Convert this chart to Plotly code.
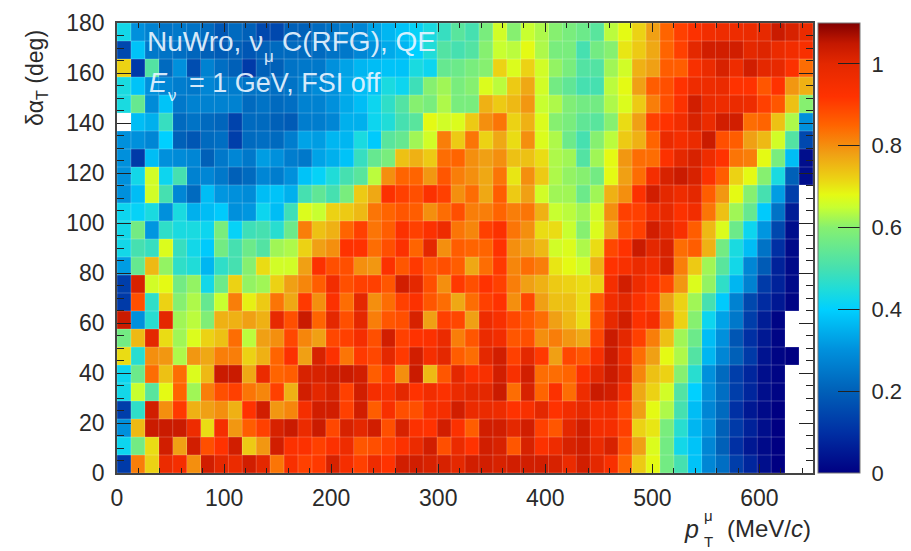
import plotly.graph_objects as go

# cell values, top row of the picture first
row_00 = [.43,.30,.27,.24,.25,.24,.22,.18,.22,.20,.15,.15,.20,.20,.22,.24,.27,.28,.33,.36,.38,.41,.44,.48,.53, .50,.58,.66,.60,.65,.63,.60,.58,.56,.53,.64,.68,.72,.78,.85,.90,.93,.96,.97,.97,.98,.99,1.04,1.02,.98]
row_01 = [.15,.38,.25,.24,.23,.21,.20,.19,.20,.18,.20,.22,.22,.22,.22,.24,.25,.28,.30,.34,.36,.40,.45,.52,.50, .52,.60,.65,.64,.68,.63,.58,.58,.50,.57,.60,.70,.73,.77,.85,.90,1.0,1.03,1.03,1.03,1.0,1.01,.98,.96,.94]
row_02 = [.72,.12,.52,.22,.30,.16,.27,.23,.20,.12,.20,.20,.24,.25,.25,.30,.33,.36,.37,.38,.38,.44,.42,.55,.56, .58,.60,.72,.67,.72,.66,.61,.58,.52,.52,.62,.66,.76,.78,.86,.86,.94,.98,1.02,.97,1.03,1.0,.99,.93,.84]
row_03 = [.44,.38,.30,.28,.26,.25,.28,.26,.26,.24,.24,.23,.24,.27,.29,.30,.34,.37,.38,.44,.42,.49,.60,.62,.58, .60,.67,.64,.73,.77,.66,.57,.54,.50,.50,.64,.68,.78,.86,.88,.92,.97,.97,.98,.92,.92,.87,.92,.79,.76]
row_04 = [.44,.55,.29,.38,.25,.27,.27,.27,.27,.22,.24,.22,.23,.27,.27,.30,.34,.37,.42,.47,.52,.60,.58,.63,.58, .58,.76,.73,.75,.79,.65,.63,.59,.57,.57,.63,.67,.73,.82,.88,.93,1.03,.98,.97,.98,.97,.90,.87,.74,.60]
row_05 = [None,.37,.35,.48,.22,.24,.22,.21,.14,.22,.22,.20,.19,.26,.26,.28,.35,.35,.42,.45,.50,.53,.68,.66,.67, .73,.80,.83,.72,.76,.67,.60,.58,.54,.53,.60,.71,.78,.90,.92,.96,1.02,.98,1.03,1.03,.84,.85,.74,.63,.30]
row_06 = [.30,.30,.28,.40,.20,.18,.22,.23,.13,.22,.23,.22,.26,.33,.32,.36,.36,.44,.39,.53,.55,.62,.66,.82,.73, .83,.72,.77,.71,.80,.67,.63,.56,.50,.60,.64,.73,.76,.85,.98,.95,.98,1.04,.88,.86,.78,.75,.66,.52,.15]
row_07 = [.30,.12,.37,.30,.29,.28,.20,.25,.28,.25,.32,.30,.26,.25,.33,.35,.38,.48,.55,.58,.74,.76,.73,.84,.85, .80,.78,.80,.74,.74,.71,.63,.62,.52,.62,.68,.79,.84,.84,.93,1.0,1.02,.97,.92,.83,.82,.68,.58,.37,.03]
row_08 = [.30,.43,.66,.42,.50,.27,.28,.25,.20,.22,.28,.26,.30,.38,.41,.45,.50,.53,.64,.80,.85,.85,.79,.87,.82, .80,.77,.83,.70,.80,.73,.63,.61,.60,.57,.68,.78,.84,.95,1.02,1.04,1.02,.93,.86,.72,.68,.60,.44,.20,.03]
row_09 = [.30,.37,.66,.50,.28,.22,.37,.31,.30,.29,.37,.38,.35,.50,.54,.50,.58,.73,.77,.93,.90,.88,.93,.90,.80, .84,.77,.86,.73,.78,.66,.62,.62,.56,.62,.76,.80,.93,1.03,1.0,.97,1.0,.86,.79,.68,.60,.50,.32,.13,None]
row_10 = [.42,.41,.44,.30,.44,.35,.37,.39,.30,.31,.42,.37,.49,.67,.65,.72,.73,.75,.83,.85,.87,.86,.80,.84,.88, .82,.82,.85,.82,.83,.76,.65,.64,.62,.66,.80,.90,.90,.96,.99,.93,.96,.83,.74,.62,.55,.39,.24,.06,None]
row_11 = [.43,.57,.31,.47,.44,.44,.42,.58,.41,.49,.50,.46,.56,.82,.74,.76,.85,.90,.83,.86,.93,.90,.93,.97,.83, .81,.90,.93,.83,.80,.71,.71,.65,.60,.67,.77,.88,.90,1.03,1.0,.94,.86,.75,.67,.56,.42,.31,.15,.03,None]
row_12 = [.43,.50,.48,.67,.48,.43,.39,.57,.50,.56,.52,.62,.63,.72,.78,.80,.92,.92,.84,.88,.93,.85,1.0,.80,.86, .85,.85,.92,.80,.78,.75,.66,.67,.63,.71,.89,.92,1.04,1.0,1.02,.84,.86,.76,.57,.44,.37,.24,.10,.02,None]
row_13 = [.32,.55,.75,.61,.47,.45,.36,.47,.50,.60,.71,.66,.66,.78,.93,.88,.88,.80,.79,.93,.87,.91,.87,.88,.86, .77,.84,.91,.81,.84,.82,.70,.68,.66,.76,.92,.94,.98,.96,1.02,.82,.73,.62,.53,.43,.28,.19,.07,.02,None]
row_14 = [.13,1.02,.66,.68,.57,.61,.43,.56,.72,.61,.62,.72,.78,.81,.86,.96,.88,.90,.90,.87,1.03,1.0,.88,.80,.91, .88,.92,.90,.82,.78,.76,.73,.72,.71,.72,.95,1.03,.97,.93,.89,.79,.67,.61,.47,.36,.27,.12,.07,.02,None]
row_15 = [.12,.88,.47,.72,.60,.63,.55,.65,.82,.69,.73,.83,.77,.91,.80,.93,.84,1.0,.80,.84,.90,.93,.87,.84,.77, .84,.90,.92,.80,.89,.78,.74,.74,.71,.86,.96,1.0,.93,.90,.78,.72,.62,.50,.39,.27,.15,.09,.05,.01,None]
row_16 = [1.04,.30,.46,1.0,.62,.64,.59,.76,.76,.78,.76,.99,.88,1.04,.85,1.0,.88,1.0,.82,.87,.88,1.02,.78,.90,.89, .78,.97,.94,.89,.87,.84,.78,.75,.71,.87,.99,1.03,.93,.95,.82,.72,.60,.42,.33,.25,.13,.06,.01,None,None]
row_17 = [.57,.75,1.0,.71,.62,.67,.72,.74,.84,.64,.78,.80,.89,.81,.78,.89,.90,.95,.88,1.03,.90,.92,.93,.98,.82, .87,.98,.96,.87,.88,.80,.82,.79,.77,.89,1.04,1.0,.90,.82,.74,.62,.56,.37,.30,.18,.10,.05,.01,None,None]
row_18 = [.71,.46,.80,.79,.63,.79,.77,.82,.82,.72,.76,.85,.93,.78,1.02,.93,.83,.91,.89,1.0,.91,1.03,.95,1.0,.86, .84,1.0,1.03,.90,1.0,.91,.78,.89,.87,.94,1.04,.97,.84,.78,.68,.63,.52,.36,.28,.20,.12,.04,.01,.0,None]
row_19 = [.42,.56,.84,.74,.84,.67,.75,1.04,1.04,.77,.98,.85,.86,1.02,1.02,1.03,1.04,1.03,.86,.91,.80,1.04,.75,.87,1.0, .93,.94,1.03,.94,1.03,.84,.84,.85,.93,1.0,1.04,1.0,.81,.74,.72,.60,.46,.30,.22,.13,.08,.03,.01,None,None]
row_20 = [.43,.65,.53,.68,.85,.62,.82,.88,.90,.83,.81,.90,.76,1.03,1.0,1.02,.90,1.03,.95,.94,1.0,.92,.96,.93,.98, 1.0,1.0,1.04,.84,1.02,.85,.93,.84,.97,1.04,1.03,.95,.77,.72,.66,.52,.40,.30,.23,.13,.08,.03,.01,None,None]
row_21 = [.13,.47,1.03,.80,.91,.76,.78,.80,.76,.92,1.03,.79,.81,.95,1.03,1.03,.90,1.03,.86,.94,.88,.88,.94,.95,1.03, .98,.98,.97,.92,.94,1.0,.92,.96,.99,.95,.96,.89,.78,.68,.63,.50,.37,.28,.22,.10,.05,.02,.0,None,None]
row_22 = [.30,.75,1.04,1.04,1.04,.97,.71,.95,.79,.86,.90,1.02,1.04,.98,1.04,.89,1.02,1.0,1.03,.88,1.02,.93,.92,1.03,.93, .86,1.03,1.03,1.0,1.03,.90,.87,1.0,1.03,.95,.95,.90,.72,.70,.58,.46,.36,.30,.20,.12,.07,.03,.0,None,None]
row_23 = [.42,.57,.71,1.03,.78,1.03,.88,.92,1.03,.73,.79,1.03,.93,.93,.90,.93,.97,.87,.88,.90,.93,.98,1.03,.88,.98, .92,1.03,1.02,.87,1.02,.93,.97,1.02,1.03,.98,1.02,.88,.78,.67,.57,.43,.38,.28,.20,.10,.05,.02,.0,None,None]
row_24 = [.12,.82,.72,.98,.95,.80,1.03,1.0,.98,1.03,1.0,.83,.94,.90,.91,1.02,.95,.90,.97,.92,1.03,1.03,1.02,1.02,1.0, 1.03,1.03,1.02,1.03,1.03,1.03,1.02,.98,1.03,1.0,.94,.85,.73,.68,.57,.50,.38,.28,.23,.13,.08,.03,.0,None,None]

rows_top_first = [row_00,row_01,row_02,row_03,row_04,row_05,row_06,row_07,row_08,row_09,row_10,row_11,row_12,
                  row_13,row_14,row_15,row_16,row_17,row_18,row_19,row_20,row_21,row_22,row_23,row_24]
assert all(len(r) == 50 for r in rows_top_first)

X_BIN, Y_BIN = 13, 7.2
x_centers = [X_BIN * (i + .5) for i in range(50)]
y_centers = [Y_BIN * (j + .5) for j in range(25)]
z = rows_top_first[::-1]

ZMAX = 1.1
stops = [(0,'#000082'),(.1,'#0030a4'),(.2,'#0060b8'),(.3,'#0090dc'),(.4,'#00d0ff'),(.45,'#20dcd8'),(.5,'#46e0b0'),
         (.6,'#86f070'),(.65,'#c8ff30'),(.68,'#e4fa14'),(.72,'#ecd214'),(.78,'#f0a014'),(.85,'#ff6400'),(.92,'#ff3200'),
         (1.0,'#e42800'),(1.05,'#c41800'),(1.1,'#820000')]
colorscale = [[v / ZMAX, c] for v, c in stops]

FONT = "Liberation Sans"
INK = "#2a2a2a"
PW, PH = 696, 450   # plot box, pixels
fig = go.Figure()
fig.add_trace(go.Heatmap(
    x=x_centers, y=y_centers, z=z, zmin=0, zmax=ZMAX, colorscale=colorscale, hoverongaps=False,
    colorbar=dict(x=701 / PW, xanchor="left", xpad=0, y=.5, yanchor="middle", ypad=0, len=1, lenmode="fraction",
                  thickness=42, outlinewidth=1, outlinecolor="#777777", ticks="inside", ticklen=22,
                  tickcolor="#222222", tickwidth=1, tickvals=[0,.2,.4,.6,.8,1],
                  ticktext=["\u00a00","\u00a00.2","\u00a00.4","\u00a00.6","\u00a00.8","\u00a01"],
                  tickfont=dict(family=FONT, size=22, color=INK))))

# faint lines between cells
gx, gy = [], []
for i in range(51):
    gx += [i * X_BIN, i * X_BIN, None]; gy += [0, 180, None]
for j in range(26):
    gx += [0, 650, None]; gy += [j * Y_BIN, j * Y_BIN, None]
fig.add_trace(go.Scatter(x=gx, y=gy, mode="lines", line=dict(color="rgba(255,255,255,0.22)", width=1),
                         hoverinfo="skip", showlegend=False))

axis_common = dict(showgrid=False, zeroline=False, showline=True, linecolor="#444444", linewidth=1.5,
                   mirror="ticks", ticks="inside", tickcolor="#222222", tickwidth=1,
                   tickfont=dict(family=FONT, size=23, color=INK), automargin=False)
fig.update_xaxes(range=[0, 650], dtick=100, ticklen=9, ticklabelstandoff=4,
                 minor=dict(ticks="inside", dtick=20, ticklen=5, tickcolor="#222222", tickwidth=1, showgrid=False), **axis_common)
fig.update_yaxes(range=[0, 180], dtick=20, ticklen=14, ticklabelstandoff=6,
                 minor=dict(ticks="inside", dtick=5, ticklen=7, tickcolor="#222222", tickwidth=1, showgrid=False), **axis_common)

def note(x, y, text, size, color=INK, anchor="left", angle=0):
    fig.add_annotation(xref="paper", yref="paper", x=(x - 117) / PW, y=(473 - y) / PH, text=text, showarrow=False,
                       xanchor=anchor, yanchor="middle", textangle=angle, align="left",
                       font=dict(family=FONT, size=size, color=color))

W = "rgba(235,245,255,0.92)"
note(145, 41, "NuWro, ν", 28, W)
note(262, 56, "μ", 17, W)
note(280, 41, "C(RFG), QE", 28, W)
note(147, 83, "<i>E</i>", 27, W)
note(166, 95, "ν", 17, W)
note(187, 83, "= 1 GeV, FSI off", 27, W)

note(682, 529, "<i>p</i>", 25)
note(702, 515, "μ", 15)
note(702, 541, "T", 15)
note(813, 528, "(MeV/<i>c</i>)", 24, anchor="right")

note(36, 78, "δα<sub>T</sub> (deg)", 23, anchor="center", angle=-90)

fig.update_layout(width=911, height=551, autosize=False,
                  margin=dict(l=117, r=98, t=23, b=78, pad=0, autoexpand=False),
                  paper_bgcolor="white", plot_bgcolor="white", showlegend=False)
fig.write_html("out.html", config={"displayModeBar": False}, post_script="document.body.style.margin='0';")
